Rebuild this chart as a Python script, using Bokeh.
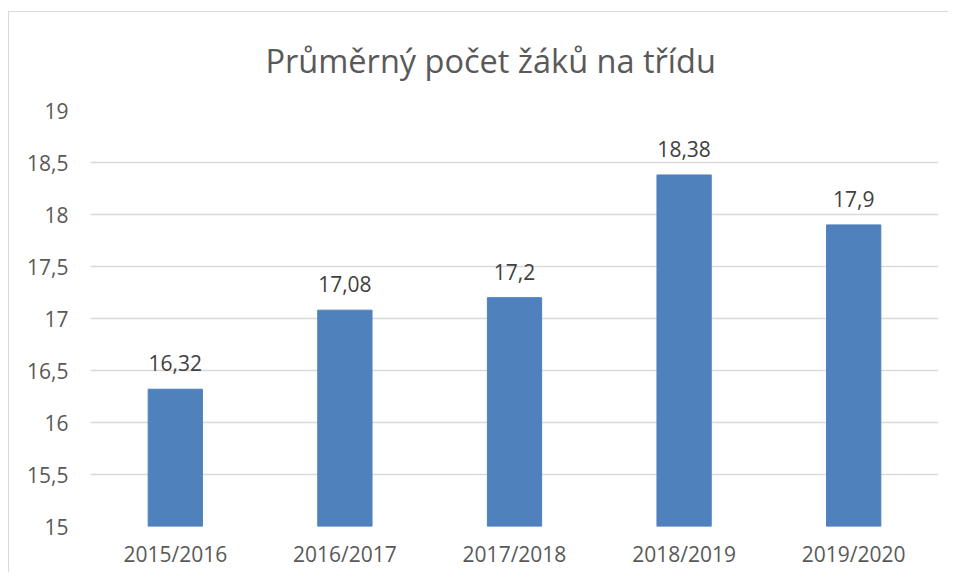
from bokeh.plotting import figure
from bokeh.models import ColumnDataSource, FixedTicker, InlineStyleSheet
from bokeh.core.properties import value
from bokeh.embed import file_html
from bokeh.resources import INLINE

categories = ["2015/2016", "2016/2017", "2017/2018", "2018/2019", "2019/2020"]
values = [16.32, 17.08, 17.2, 18.38, 17.9]
y_ticks = [15, 15.5, 16, 16.5, 17, 17.5, 18, 18.5, 19]

labels = [str(v).replace(".", ",") for v in values]
src = ColumnDataSource(dict(x=categories, y=values, lab=labels))

FONT = "Open Sans"
p = figure(x_range=categories, y_range=(15, 19), width=948, height=572,
           output_backend="svg", toolbar_location=None,
           min_border_left=90, min_border_right=10, min_border_top=110, min_border_bottom=46)

# chart-area border (left and top edges visible)
p.stylesheets = [InlineStyleSheet(css=(
    ":host::before { content: ''; position: absolute; left: 8px; top: 11px; right: 0px; bottom: 0px;"
    " border-left: 1.5px solid #d9d9d9; border-top: 1.5px solid #d9d9d9; pointer-events: none; z-index: 5; }"
))]

p.title.text = "Průměrný počet žáků na třídu"
p.title.text_font = FONT
p.title.text_font_size = "32.5px"
p.title.text_font_style = "normal"
p.title.text_color = "#595959"
p.title.text_line_height = 0.95
p.title.align = "left"
p.title.offset = 175
p.title.standoff = 55

p.vbar(x="x", top="y", bottom=15, width=0.32, source=src, color="#4F81BD")
p.text(x="x", y="y", text="lab", source=src, text_align="center", text_baseline="alphabetic",
       y_offset=-26, text_font=value(FONT), text_font_size="21px", text_color="#404040")

p.outline_line_color = None
p.xgrid.grid_line_color = None
p.ygrid.grid_line_color = "#d9d9d9"
p.ygrid.grid_line_width = 1.5

p.yaxis.ticker = FixedTicker(ticks=y_ticks)
p.yaxis.major_label_overrides = {t: (str(t).replace(".", ",") if t % 1 else str(int(t))) for t in y_ticks}
for ax in (p.xaxis, p.yaxis):
    ax.axis_line_color = None
    ax.major_tick_line_color = None
    ax.minor_tick_line_color = None
    ax.major_tick_out = 0
    ax.major_tick_in = 0
    ax.major_label_text_font = FONT
    ax.major_label_text_font_size = "21px"
    ax.major_label_text_color = "#595959"
p.yaxis.major_label_standoff = 22
p.xaxis.major_label_standoff = 13

open("out.html", "w").write(file_html(p, INLINE))
